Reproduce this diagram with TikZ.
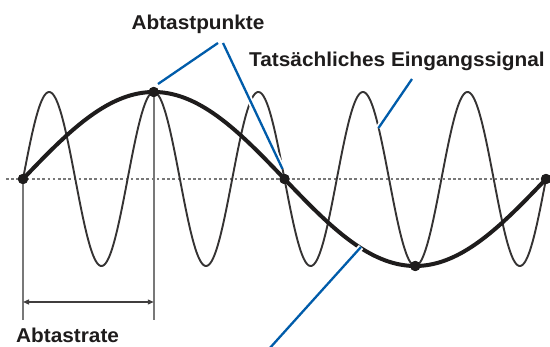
\documentclass[tikz,border=0pt]{standalone}
\usepackage{fontspec}
\setmainfont{Liberation Sans}
\usetikzlibrary{arrows.meta}
\definecolor{callout}{RGB}{0,92,170}
\definecolor{ink}{RGB}{30,28,28}
\definecolor{guidegray}{RGB}{120,120,120}
\begin{document}
\begin{tikzpicture}[x=1pt,y=-1pt,
  lbl/.style={inner sep=0pt, font=\fontsize{20}{24}\selectfont\bfseries, text=ink},
  callline/.style={draw=callout, line width=2.3pt, preaction={draw=white, line width=6pt}},
  sdot/.style={circle, fill=ink, inner sep=0pt, minimum size=10pt},
  guide/.style={draw=guidegray, line width=1.6pt},
  axisline/.style={draw=guidegray, line width=1.6pt, dash pattern=on 2.6pt off 2.6pt},
  thinwave/.style={draw=ink!90, line width=1.9pt},
  thickwave/.style={draw=ink, line width=4pt, line join=round},
  dimarrow/.style={draw=ink!85, line width=1.3pt, {Triangle[length=6pt,width=5pt]}-{Triangle[length=6pt,width=5pt]}}
]
\useasboundingbox (0,0) rectangle (550,347);

% axis
\coordinate (axL) at (6,179);
\coordinate (axR) at (550,179);
\draw[axisline] (axL) -- (axR);

% sample points
\node[sdot] (s0) at (23,179) {};
\node[sdot] (s1) at (153.75,92) {};
\node[sdot] (s2) at (284.5,179) {};
\node[sdot] (s3) at (415.25,266) {};
\node[sdot] (s4) at (546,179) {};

% guide lines and sampling interval
\coordinate (g0) at (23,320);
\coordinate (g1) at (153.75,320);
\coordinate (a0) at (23,302);
\coordinate (a1) at (153.75,302);
\draw[guide] (s0.center) -- (g0);
\draw[guide] (s1.center) -- (g1);
\draw[dimarrow] (a0) -- (a1);

% waves
\draw[thinwave] plot[domain=23:546, samples=500, smooth] (\x, {179 - 87*sin(3.441683*(\x-23))});
\draw[thickwave] plot[domain=23:546, samples=200, smooth] (\x, {179 - 87*sin(0.688337*(\x-23))});

% dots on top
\foreach \n in {s0,s1,s2,s3,s4} \fill[ink] (\n) circle (5.2pt);

% labels
\node[lbl, anchor=base] (abp) at (198,30) {\scalebox{1.04}[1]{Abtastpunkte}};
\node[lbl, anchor=base] (sig) at (397,66.5) {\scalebox{1.04}[1]{Tatsächliches Eingangssignal}};
\node[lbl, anchor=base west] (rate) at (16,343) {\scalebox{1.04}[1]{Abtastrate}};

% callout lines
\coordinate (c1a) at (218,43);
\coordinate (c1b) at (158,84);
\coordinate (c2a) at (223,43);
\coordinate (c2b) at (282.5,169);
\coordinate (c3a) at (412,79);
\coordinate (c3b) at (378.5,128);
\coordinate (c4a) at (269,349);
\coordinate (c4b) at (361,247);
\draw[callline] (c1a) -- (c1b);
\draw[callline] (c2a) -- (c2b);
\draw[callline] (c3a) -- (c3b);
\draw[callline] (c4a) -- (c4b);
\end{tikzpicture}
\end{document}
